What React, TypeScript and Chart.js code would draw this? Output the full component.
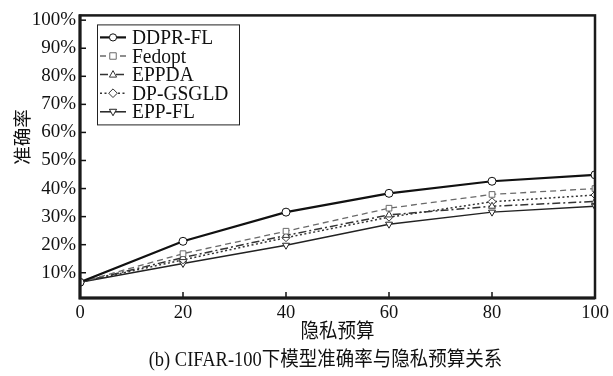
import React, { useEffect, useRef } from "react";
import { Chart, registerables } from "chart.js";

Chart.register(...registerables);

const budgets = [0, 20, 40, 60, 80, 100];
const seriesNames = ["DDPR-FL", "Fedopt", "EPPDA", "DP-GSGLD", "EPP-FL"];
const ddprFl = [6.6, 21.2, 31.6, 38.3, 42.6, 44.9];
const fedopt = [6.6, 16.8, 24.8, 33.0, 37.9, 40.0];
const eppda = [6.6, 15.4, 23.3, 30.6, 33.7, 35.4];
const dpGsgld = [6.6, 14.6, 22.5, 29.8, 35.3, 37.7];
const eppFl = [6.6, 13.3, 19.8, 27.3, 31.6, 33.7];
const yTicks = [10, 20, 30, 40, 50, 60, 70, 80, 90, 100];
const xTitle = "隐私预算";
const yTitle = "准确率";
const caption = "(b) CIFAR-100下模型准确率与隐私预算关系";

const SERIF = '"Liberation Serif", "Noto Sans CJK SC", serif';

const styles = [
  { color: "#111", width: 2.2, dash: [] as number[], point: "circle", rot: 0 },
  { color: "#6a6a6a", width: 1.3, dash: [6, 4], point: "rect", rot: 0 },
  { color: "#333", width: 1.5, dash: [8, 3, 2, 3], point: "triangle", rot: 0 },
  { color: "#333", width: 1.5, dash: [2, 2.5], point: "rectRot", rot: 0 },
  { color: "#222", width: 1.5, dash: [] as number[], point: "triangle", rot: 180 },
];

function drawMarker(ctx: CanvasRenderingContext2D, style: string, rot: number, x: number, y: number, r: number) {
  ctx.save();
  ctx.translate(x, y);
  ctx.rotate((rot * Math.PI) / 180);
  ctx.beginPath();
  if (style === "circle") {
    ctx.arc(0, 0, r, 0, Math.PI * 2);
  } else if (style === "rect") {
    ctx.rect(-r * 0.9, -r * 0.9, r * 1.8, r * 1.8);
  } else if (style === "rectRot") {
    ctx.moveTo(0, -r * 1.2);
    ctx.lineTo(r * 1.2, 0);
    ctx.lineTo(0, r * 1.2);
    ctx.lineTo(-r * 1.2, 0);
    ctx.closePath();
  } else {
    ctx.moveTo(0, -r * 1.1);
    ctx.lineTo(r, r * 0.7);
    ctx.lineTo(-r, r * 0.7);
    ctx.closePath();
  }
  ctx.fillStyle = "#fff";
  ctx.fill();
  ctx.setLineDash([]);
  ctx.stroke();
  ctx.restore();
}

function tallText(ctx: CanvasRenderingContext2D, text: string, x: number, y: number, sy: number) {
  ctx.save();
  ctx.translate(x, y);
  ctx.scale(1, sy);
  ctx.fillText(text, 0, 0);
  ctx.restore();
}

const decorPlugin = {
  id: "decor",
  afterDraw(chart: any) {
    const { ctx, chartArea, scales } = chart;
    const { left, right, top, bottom } = chartArea;
    ctx.save();
    // inward tick marks
    ctx.strokeStyle = "#111";
    ctx.lineWidth = 1.5;
    ctx.setLineDash([]);
    for (const v of yTicks) {
      const y = scales.y.getPixelForValue(v);
      ctx.beginPath();
      ctx.moveTo(left, y);
      ctx.lineTo(left + 6, y);
      ctx.stroke();
    }
    for (const v of budgets.slice(1, -1)) {
      const x = scales.x.getPixelForValue(v);
      ctx.beginPath();
      ctx.moveTo(x, bottom);
      ctx.lineTo(x, bottom - 6);
      ctx.stroke();
    }
    // frame
    ctx.lineWidth = 2.5;
    ctx.strokeStyle = "#1a1a1a";
    ctx.strokeRect(left, top, right - left, bottom - top);
    ctx.lineWidth = 3;
    ctx.beginPath();
    ctx.moveTo(left, top - 1);
    ctx.lineTo(left, bottom);
    ctx.lineTo(right, bottom);
    ctx.stroke();

    // legend
    const bx = left + 17;
    const by = top + 9;
    const bw = 142;
    const bh = 100;
    ctx.fillStyle = "#fff";
    ctx.fillRect(bx, by, bw, bh);
    ctx.lineWidth = 1;
    ctx.strokeStyle = "#222";
    ctx.strokeRect(bx + 0.5, by + 0.5, bw, bh);
    ctx.font = `19.5px ${SERIF}`;
    ctx.textBaseline = "middle";
    ctx.textAlign = "left";
    seriesNames.forEach((name, i) => {
      const s = styles[i];
      const y = by + 13 + i * 18.6;
      ctx.strokeStyle = s.color;
      ctx.lineWidth = s.width;
      ctx.setLineDash(s.dash);
      ctx.beginPath();
      ctx.moveTo(bx + 3, y);
      ctx.lineTo(bx + 29, y);
      ctx.stroke();
      ctx.lineWidth = 1;
      drawMarker(ctx, s.point, s.rot, bx + 16, y, 3.6);
      ctx.fillStyle = "#111";
      tallText(ctx, name, bx + 35, y + 1, 1.08);
    });

    // titles
    ctx.fillStyle = "#111";
    ctx.textAlign = "center";
    ctx.font = `18.5px ${SERIF}`;
    tallText(ctx, xTitle, (left + right) / 2, 333, 1.1);
    tallText(ctx, caption, (left + right) / 2 - 12, 361, 1.1);
    ctx.translate(24, 137);
    ctx.rotate(-Math.PI / 2);
    ctx.fillText(yTitle, 0, 0);
    ctx.restore();
  },
};

export default function App() {
  const ref = useRef<HTMLCanvasElement | null>(null);
  useEffect(() => {
    document.body.style.margin = "0";
    const canvas = ref.current!;
    const all = [ddprFl, fedopt, eppda, dpGsgld, eppFl];
    const chart = new Chart(canvas, {
      type: "line",
      data: {
        datasets: all.map((vals, i) => ({
          label: seriesNames[i],
          data: vals.map((v, j) => ({ x: budgets[j], y: v })),
          borderColor: styles[i].color,
          borderWidth: styles[i].width,
          borderDash: styles[i].dash,
          pointStyle: styles[i].point as any,
          pointRotation: styles[i].rot,
          pointRadius: 4,
          pointBorderWidth: 1,
          pointBorderColor: styles[i].color,
          pointBackgroundColor: "#fff",
          fill: false,
          tension: 0,
          clip: 0,
        })),
      },
      options: {
        animation: false,
        responsive: false,
        devicePixelRatio: 1,
        layout: { padding: { left: 0, right: 18, top: 10, bottom: 0 } },
        plugins: { legend: { display: false }, tooltip: { enabled: false } },
        scales: {
          x: {
            type: "linear",
            min: 0,
            max: 100,
            afterFit: (s: any) => {
              s.height = 78;
            },
            afterBuildTicks: (s: any) => {
              s.ticks = budgets.map((v) => ({ value: v }));
            },
            grid: { display: false, drawTicks: false },
            border: { display: false },
            ticks: {
              padding: 4,
              color: "#111",
              font: { family: SERIF, size: 18.5 },
              maxRotation: 0,
              autoSkip: false,
            },
          },
          y: {
            type: "linear",
            min: 1,
            max: 101.7,
            afterFit: (s: any) => {
              s.width = 80;
            },
            afterBuildTicks: (s: any) => {
              s.ticks = yTicks.map((v) => ({ value: v }));
            },
            grid: { display: false, drawTicks: false },
            border: { display: false },
            ticks: {
              padding: 4,
              color: "#111",
              font: { family: SERIF, size: 19 },
              callback: (v: any) => `${v}%`,
              autoSkip: false,
            },
          },
        },
      },
      plugins: [decorPlugin],
    });
    return () => chart.destroy();
  }, []);
  return <canvas ref={ref} width={613} height={376} style={{ display: "block", width: 613, height: 376 }} />;
}
